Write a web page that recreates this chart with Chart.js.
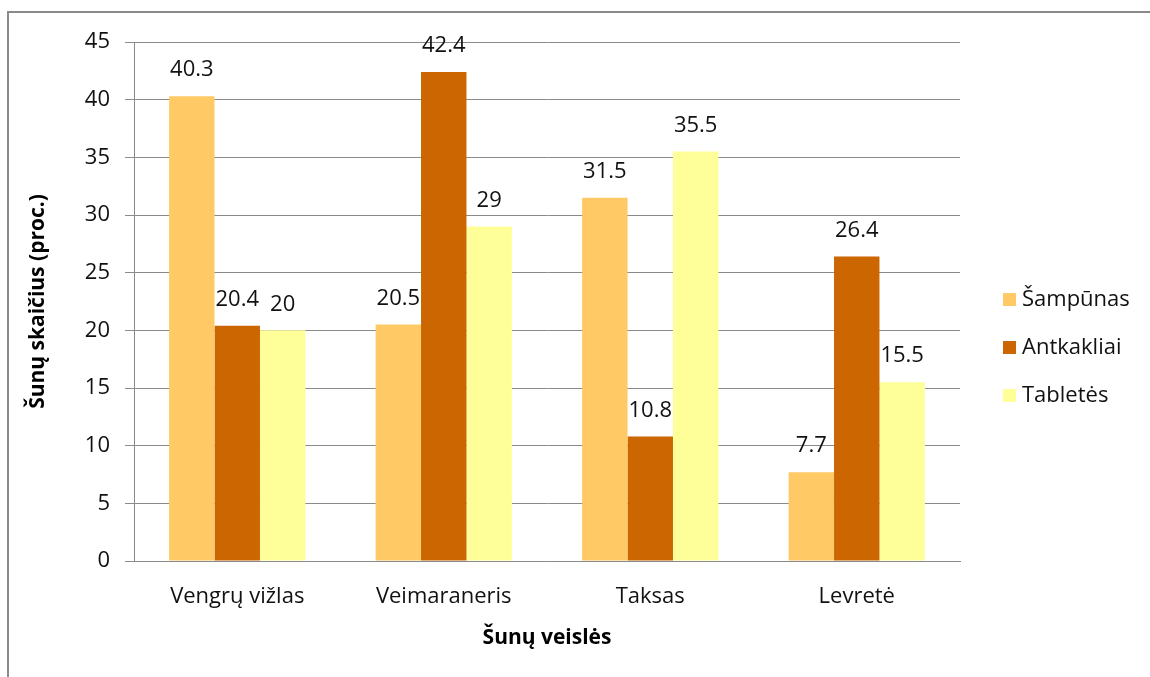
<!DOCTYPE html>
<html><head><meta charset="utf-8">
<script src="https://cdn.jsdelivr.net/npm/chart.js@4/dist/chart.umd.min.js"></script>
<style>
html,body{margin:0;padding:0;background:#fff;}
#wrap{position:relative;width:1150px;height:677px;}
#frame{position:absolute;left:7px;top:11px;right:-10px;bottom:-10px;border-left:2px solid #8a8a8a;border-top:2px solid #8a8a8a;pointer-events:none;}
canvas{position:absolute;left:0;top:0;}
</style></head><body>
<div id="wrap"><canvas id="c" width="1150" height="677"></canvas><div id="frame"></div></div>
<script>
const categories = ["Vengrų vižlas", "Veimaraneris", "Taksas", "Levretė"];
const seriesNames = ["Šampūnas", "Antkakliai", "Tabletės"];
const sampunas = [40.3, 20.5, 31.5, 7.7];
const antkakliai = [20.4, 42.4, 10.8, 26.4];
const tabletes = [20, 29, 35.5, 15.5];
const yTicks = [0, 5, 10, 15, 20, 25, 30, 35, 40, 45];
const colors = ["#FFCA66", "#CC6600", "#FFFF99"];
const FONT = "'Open Sans', sans-serif";
const TXT = "#111";

const valueLabels = {
  id: 'valueLabels',
  afterDatasetsDraw(chart) {
    const ctx = chart.ctx;
    ctx.save();
    ctx.font = "22px " + FONT;
    ctx.fillStyle = TXT;
    ctx.textAlign = "center";
    ctx.textBaseline = "middle";
    chart.data.datasets.forEach((ds, i) => {
      chart.getDatasetMeta(i).data.forEach((bar, j) => {
        ctx.fillText(String(ds.data[j]), bar.x, bar.y - 26);
      });
    });
    ctx.restore();
  }
};
const sideLegend = {
  id: 'sideLegend',
  afterDraw(chart) {
    const ctx = chart.ctx;
    ctx.save();
    ctx.font = "22px " + FONT;
    ctx.textBaseline = "middle";
    ctx.textAlign = "left";
    chart.data.datasets.forEach((ds, i) => {
      const y = 300 + i * 48;
      ctx.fillStyle = ds.backgroundColor;
      ctx.fillRect(1003, y - 7, 13, 13);
      ctx.fillStyle = TXT;
      ctx.fillText(ds.label, 1022, y);
    });
    ctx.restore();
  }
};

new Chart(document.getElementById('c'), {
  type: 'bar',
  data: {
    labels: categories,
    datasets: [
      {label: seriesNames[0], data: sampunas, backgroundColor: colors[0]},
      {label: seriesNames[1], data: antkakliai, backgroundColor: colors[1]},
      {label: seriesNames[2], data: tabletes, backgroundColor: colors[2]}
    ]
  },
  options: {
    responsive: false,
    animation: false,
    devicePixelRatio: 1,
    layout: {padding: {left: 20, top: 42, right: 190, bottom: 20}},
    datasets: {bar: {categoryPercentage: 0.66, barPercentage: 1.0}},
    plugins: {legend: {display: false}, tooltip: {enabled: false}},
    scales: {
      x: {
        grid: {display: false, drawTicks: false},
        border: {display: true, color: "#8a8a8a", width: 1},
        ticks: {padding: 23, color: TXT, font: {family: FONT, size: 22}},
        title: {display: true, text: "Šunų veislės", color: "#000", font: {family: FONT, size: 21, weight: 'bold'}, padding: {top: 0, bottom: 6}},
        afterFit(s) { s.height = 96; }
      },
      y: {
        min: 0, max: 45,
        afterBuildTicks(s) { s.ticks = yTicks.map(v => ({value: v})); },
        grid: {color: "#8a8a8a", tickLength: 9, drawTicks: true},
        border: {display: true, color: "#8a8a8a"},
        ticks: {padding: 15, color: TXT, font: {family: FONT, size: 22}},
        title: {display: true, text: "Šunų skaičius (proc.)", color: "#000", font: {family: FONT, size: 21, weight: 'bold'}, padding: {top: 5, bottom: 0}},
        afterFit(s) { s.width = 114; }
      }
    }
  },
  plugins: [valueLabels, sideLegend]
});
</script>
</body></html>
